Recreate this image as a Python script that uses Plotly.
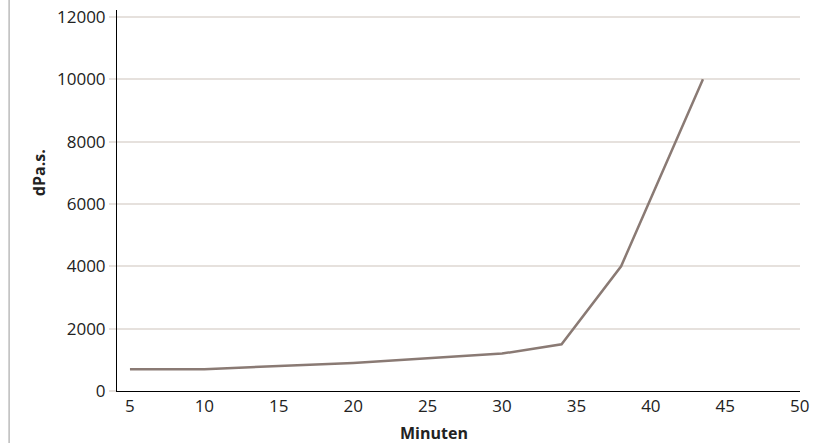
import plotly.graph_objects as go

# Viscosity over time
minutes = [5, 10, 15, 20, 25, 30, 34, 38, 43.5]
viscosity = [700, 700, 800, 900, 1050, 1200, 1500, 4000, 10000]

y_ticks = [0, 2000, 4000, 6000, 8000, 10000, 12000]

COLORS = {
    "line": "#8a7a74",
    "grid": "#e6e1dd",
    "axis": "#000000",
    "text": "#222222",
    "frame": "#9a9a9a",
}
FONT = "'Open Sans', Lato, sans-serif"

fig = go.Figure()

fig.add_trace(go.Scatter(
    x=minutes, y=viscosity,
    mode="lines",
    line=dict(color=COLORS["line"], width=2.5),
    showlegend=False,
    hoverinfo="x+y",
))

# page border on the left
fig.add_shape(
    type="line", xref="paper", yref="paper",
    x0=-0.158, x1=-0.158, y0=-0.2, y1=1.1,
    line=dict(color=COLORS["frame"], width=1),
)

fig.add_annotation(
    text="<b>Minuten</b>", xref="paper", yref="paper",
    x=0.464, y=-0.109, yanchor="middle", showarrow=False,
    font=dict(family=FONT, size=16, color=COLORS["text"]),
)
fig.add_annotation(
    text="<b>dPa.s.</b>", xref="paper", yref="paper",
    x=-0.134, y=0.573, showarrow=False, textangle=-90,
    font=dict(family=FONT, size=16, color=COLORS["text"]),
)

fig.update_layout(
    width=816, height=443,
    margin=dict(l=117, r=16, t=5, b=52),
    paper_bgcolor="white",
    plot_bgcolor="white",
    font=dict(family=FONT, size=17, color=COLORS["text"]),
    xaxis=dict(
        range=[4.13, 50.02],
        tick0=5, dtick=5,
        showgrid=False, zeroline=False,
        showline=True, linecolor=COLORS["axis"], linewidth=1,
        ticks="", ticklen=0, ticklabeloverflow="allow",
        tickfont=dict(size=17, color=COLORS["text"]),
    ),
    yaxis=dict(
        range=[0, 12220],
        tickvals=y_ticks, tickformat="d", ticklabeloverflow="allow",
        showgrid=True, gridcolor=COLORS["grid"], gridwidth=1.5,
        zeroline=False,
        showline=True, linecolor=COLORS["axis"], linewidth=1,
        ticks="outside", ticklen=7, tickcolor=COLORS["grid"], tickwidth=1.5,
        tickfont=dict(size=17, color=COLORS["text"]),
    ),
)

# drop the default body margin so the figure sits at the window's corner
fig.write_html(
    "out.html",
    config={"displayModeBar": False},
    post_script="document.body.style.margin = '0';",
)
